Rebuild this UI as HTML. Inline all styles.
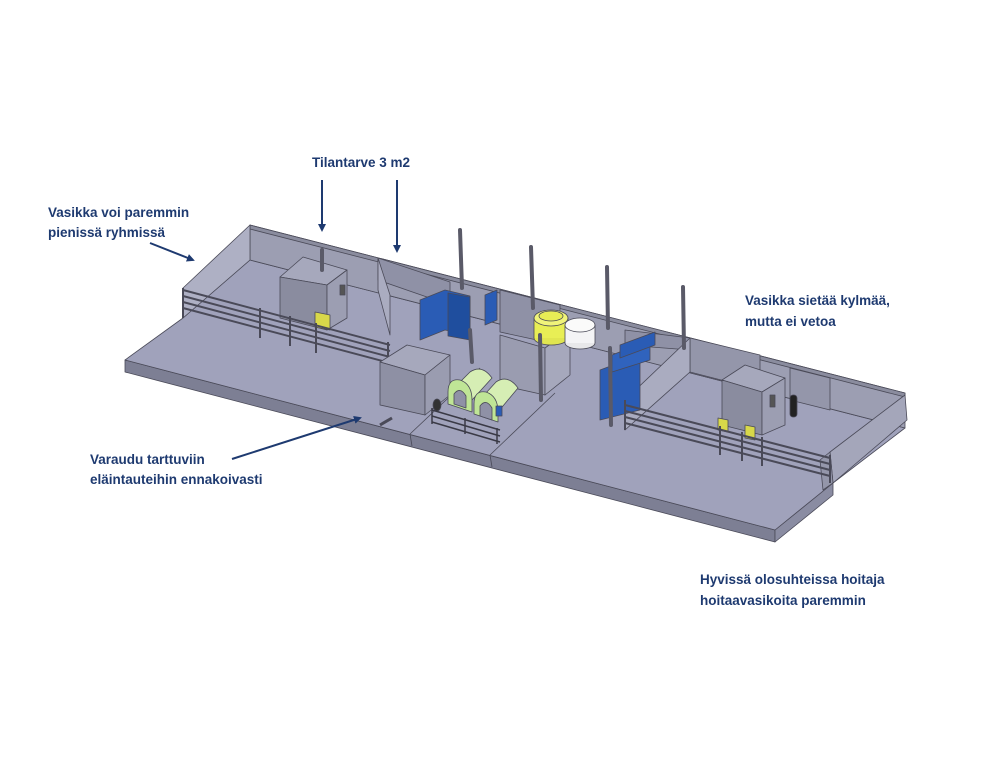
<!DOCTYPE html>
<html><head><meta charset="utf-8"><style>
html,body{margin:0;padding:0;background:#fff}
svg{display:block}
text{font-family:"Liberation Sans",sans-serif;font-size:13.5px;fill:#1e3a70;font-weight:bold}
</style></head><body>
<svg width="985" height="775" viewBox="0 0 985 775" xmlns="http://www.w3.org/2000/svg">
<defs>
<marker id="ah" markerWidth="8" markerHeight="8" refX="6" refY="4" orient="auto" markerUnits="userSpaceOnUse">
<path d="M0,0 L8,4 L0,8 Z" fill="#1e3a70"/></marker>
</defs>
<g stroke="#4a4a58" stroke-width="0.8" stroke-linejoin="round">
<polygon points="125,360 775,530 775,542 125,372" fill="#7d7f94"/>
<polygon points="775,530 833,483 833,495 775,542" fill="#8a8ca2"/>
<polygon points="125,360 183,318 250,260 905,428 833,483 775,530" fill="#a0a2bb"/>
<line x1="410" y1="434" x2="480" y2="368"/><line x1="490" y1="455" x2="555" y2="393"/>
<line x1="410" y1="434" x2="412" y2="446"/><line x1="490" y1="455" x2="492" y2="467"/>
<polygon points="250,225 905,393 905,428 250,260" fill="#9c9eb2"/>
<polygon points="250,225 905,393 905,397 250,229" fill="#8a8c9e"/>
<polygon points="250,225 183,288 183,318 250,260" fill="#aeb0c4"/>
<polygon points="830,452 905,395 907,420 833,483" fill="#a4a6ba"/>
<polygon points="820,460 830,452 833,483 823,490" fill="#9496aa"/>
<polygon points="378,258 450,282 450,305 378,280" fill="#8f91a6"/>
<polygon points="378,258 390,295 390,335 378,290" fill="#aaacc0"/>
<polygon points="500,290 560,305 560,345 500,332" fill="#8f91a6"/>
<polygon points="500,335 545,348 545,395 500,385" fill="#9a9cb0"/>
<polygon points="545,348 570,330 570,375 545,395" fill="#a6a8bc"/>
<polygon points="625,330 690,338 690,350 625,345" fill="#8f91a6"/>
<polygon points="690,338 760,355 760,390 690,372" fill="#9496aa"/>
<polygon points="625,400 690,338 690,372 625,430" fill="#aaacc0"/>
<polygon points="790,368 830,378 830,410 790,400" fill="#9496aa"/>
<polygon points="280,277 303,257 347,270 327,285" fill="#a6a8bc"/>
<polygon points="280,277 327,285 327,330 280,318" fill="#8a8c9f"/>
<polygon points="327,285 347,270 347,318 327,330" fill="#9c9eb2"/>
<rect x="340" y="285" width="5" height="10" fill="#555"/>
<polygon points="315,312 330,315 330,330 315,327" fill="#d8d84a"/>
<g fill="none" stroke="#4a4a58" stroke-width="2">
<polyline points="183,290 390,345"/><polyline points="183,296 390,351"/><polyline points="183,302 390,357"/><polyline points="183,308 390,363"/>
<line x1="183" y1="288" x2="183" y2="318"/><line x1="260" y1="308" x2="260" y2="338"/><line x1="290" y1="316" x2="290" y2="346"/><line x1="316" y1="323" x2="316" y2="353"/><line x1="388" y1="342" x2="388" y2="372"/>
</g>
<polygon points="420,300 445,290 470,296 470,335 445,330 420,340" fill="#2a5cb5"/>
<polygon points="448,293 470,297 470,340 448,336" fill="#1f4e9e"/>
<polygon points="485,295 497,290 497,320 485,325" fill="#2a5cb5"/>
<ellipse cx="551" cy="338" rx="17" ry="7" fill="#e0e550"/>
<rect x="534" y="318" width="34" height="20" fill="#e8ee55" stroke="none"/>
<line x1="534" y1="318" x2="534" y2="338"/><line x1="568" y1="318" x2="568" y2="338"/>
<ellipse cx="551" cy="318" rx="17" ry="8" fill="#f0f37a"/>
<ellipse cx="551" cy="316" rx="12" ry="5" fill="#e8ee55"/>
<ellipse cx="580" cy="343" rx="15" ry="6" fill="#e8e8ea"/>
<rect x="565" y="325" width="30" height="18" fill="#f4f4f6" stroke="none"/>
<line x1="565" y1="325" x2="565" y2="343"/><line x1="595" y1="325" x2="595" y2="343"/>
<ellipse cx="580" cy="325" rx="15" ry="7" fill="#fafafa"/>
<polygon points="600,370 640,355 640,410 600,420" fill="#2a5cb5"/>
<polygon points="612,355 650,340 650,360 612,372" fill="#3063bd"/>
<polygon points="620,345 655,332 655,345 620,358" fill="#2a5cb5"/>
<polygon points="380,362 407,345 450,355 425,375" fill="#a6a8bc"/>
<polygon points="380,362 425,375 425,415 380,405" fill="#8e90a4"/>
<polygon points="425,375 450,355 450,395 425,415" fill="#9a9cb0"/>
<ellipse cx="437" cy="405" rx="4" ry="6" fill="#333"/>
<line x1="380" y1="425" x2="392" y2="418" stroke-width="3"/>
<!-- igloos -->
<path d="M450,392 L470,372 Q482,364 492,378 L472,400 Z" fill="#d6eeb4"/>
<path d="M448,392 Q448,378 460,380 Q472,384 472,400 L472,412 L448,404 Z" fill="#bfe596"/>
<path d="M454,404 L454,394 Q460,386 466,396 L466,408 Z" fill="#8f91a6"/>
<path d="M476,404 L496,382 Q508,374 518,388 L498,412 Z" fill="#d6eeb4"/>
<path d="M474,404 Q474,390 486,392 Q498,396 498,412 L498,422 L474,414 Z" fill="#bfe596"/>
<path d="M480,416 L480,406 Q486,398 492,408 L492,420 Z" fill="#8f91a6"/>
<rect x="496" y="406" width="6" height="10" fill="#2a5cb5"/>
<g fill="none" stroke="#3a3a46" stroke-width="1.5">
<polyline points="432,410 500,430"/><polyline points="432,416 500,436"/><polyline points="432,422 500,442"/>
<line x1="432" y1="408" x2="432" y2="424"/><line x1="465" y1="418" x2="465" y2="434"/><line x1="497" y1="428" x2="497" y2="444"/>
</g>
<polygon points="722,380 745,365 785,378 762,392" fill="#a6a8bc"/>
<polygon points="722,380 762,392 762,435 722,425" fill="#8a8c9f"/>
<polygon points="762,392 785,378 785,425 762,435" fill="#9c9eb2"/>
<rect x="770" y="395" width="5" height="12" fill="#555"/>
<rect x="790" y="395" width="7" height="22" rx="3" fill="#222"/>
<polygon points="718,418 728,420 728,432 718,430" fill="#d8d84a"/>
<polygon points="745,425 755,427 755,440 745,438" fill="#d8d84a"/>
<g fill="none" stroke="#4a4a58" stroke-width="2">
<polyline points="625,405 830,458"/><polyline points="625,411 830,464"/><polyline points="625,417 830,470"/><polyline points="625,423 830,476"/>
<line x1="625" y1="400" x2="625" y2="430"/><line x1="720" y1="426" x2="720" y2="455"/><line x1="742" y1="432" x2="742" y2="461"/><line x1="762" y1="437" x2="762" y2="466"/><line x1="830" y1="455" x2="830" y2="483"/>
</g>
<g stroke="#5a5a68" stroke-width="4" stroke-linecap="round">
<line x1="460" y1="230" x2="462" y2="288"/><line x1="531" y1="247" x2="533" y2="308"/>
<line x1="607" y1="267" x2="608" y2="328"/><line x1="683" y1="287" x2="684" y2="348"/>
<line x1="470" y1="330" x2="472" y2="362"/><line x1="540" y1="335" x2="541" y2="400"/><line x1="610" y1="348" x2="611" y2="425"/>
<line x1="322" y1="250" x2="322" y2="270"/>
</g>
</g>
<text x="48" y="217">Vasikka voi paremmin</text>
<text x="48" y="237">pienissä ryhmissä</text>
<text x="312" y="167">Tilantarve 3 m2</text>
<text x="745" y="305">Vasikka sietää kylmää,</text>
<text x="745" y="326">mutta ei vetoa</text>
<text x="90" y="464">Varaudu tarttuviin</text>
<text x="90" y="484">eläintauteihin ennakoivasti</text>
<text x="700" y="584">Hyvissä olosuhteissa hoitaja</text>
<text x="700" y="605">hoitaavasikoita paremmin</text>
<g stroke="#1e3a70" stroke-width="2" fill="none">
<line x1="322" y1="180" x2="322" y2="230" marker-end="url(#ah)"/>
<line x1="397" y1="180" x2="397" y2="251" marker-end="url(#ah)"/>
<line x1="150" y1="243" x2="193" y2="260" marker-end="url(#ah)"/>
<line x1="232" y1="459" x2="360" y2="418" marker-end="url(#ah)"/>
</g>
</svg>
</body></html>
